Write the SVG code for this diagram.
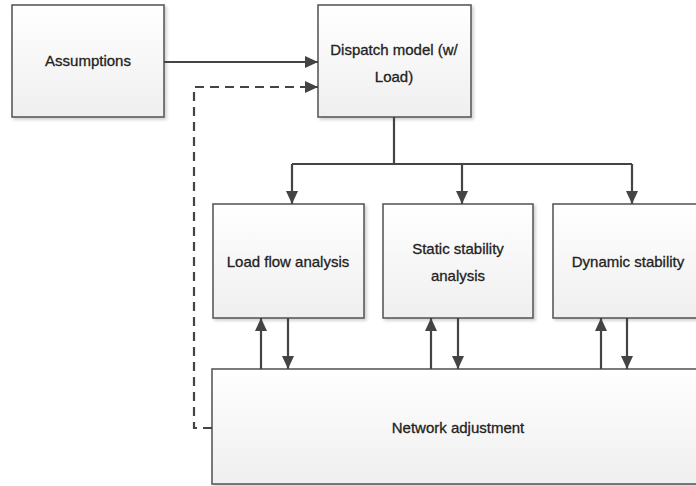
<svg xmlns="http://www.w3.org/2000/svg" width="696" height="486" viewBox="0 0 696 486">
<style>
.box{fill:url(#g);stroke:#5a5a5a;stroke-width:1.6;filter:url(#sh)}
.t{font-family:"Liberation Sans",Arial,sans-serif;font-size:15px;fill:#222;stroke:#222;stroke-width:0.3;text-anchor:middle}
.c{fill:none;stroke:#444;stroke-width:2.2}
.d{stroke-dasharray:9 6}
</style>
<defs>
<linearGradient id="g" x1="0" y1="0" x2="0" y2="1">
<stop offset="0" stop-color="#ffffff"/>
<stop offset="1" stop-color="#efefef"/>
</linearGradient>
<filter id="sh" x="-5%" y="-5%" width="115%" height="115%">
<feDropShadow dx="2" dy="2" stdDeviation="1.5" flood-color="#000" flood-opacity="0.18"/>
</filter>
<marker id="a" markerUnits="userSpaceOnUse" markerWidth="14" markerHeight="14" viewBox="0 0 14 14" refX="13" refY="7" orient="auto">
<path d="M0,1 L13,7 L0,13 Z" fill="#444"/>
</marker>
</defs>
<g id="assumptions">
<rect class="box" x="12" y="5" width="152" height="112"/>
<text class="t" x="88" y="66">Assumptions</text>
</g>
<g id="dispatch">
<rect class="box" x="318" y="5" width="153" height="112"/>
<text class="t" x="394" y="55">Dispatch model (w/</text>
<text class="t" x="394" y="82">Load)</text>
</g>
<g id="loadflow">
<rect class="box" x="213" y="204" width="151" height="114"/>
<text class="t" x="288" y="267">Load flow analysis</text>
</g>
<g id="static">
<rect class="box" x="383" y="204" width="150" height="114"/>
<text class="t" x="458" y="254">Static stability</text>
<text class="t" x="458" y="281">analysis</text>
</g>
<g id="dynamic">
<rect class="box" x="553" y="204" width="160" height="114"/>
<text class="t" x="628" y="267">Dynamic stability</text>
</g>
<g id="network">
<rect class="box" x="212" y="369" width="500" height="115"/>
<text class="t" x="458" y="433">Network adjustment</text>
</g>
<g id="connectors">
<path class="c" d="M164,62 H318" marker-end="url(#a)"/>
<path class="c d" d="M212,428 H194 V87 H318" marker-end="url(#a)"/>
<path class="c" d="M394,117 V164 M292,164 H632"/>
<path class="c" d="M292,164 V204" marker-end="url(#a)"/>
<path class="c" d="M462,164 V204" marker-end="url(#a)"/>
<path class="c" d="M632,164 V204" marker-end="url(#a)"/>
<path class="c" d="M261,369 V318" marker-end="url(#a)"/>
<path class="c" d="M288,318 V369" marker-end="url(#a)"/>
<path class="c" d="M431,369 V318" marker-end="url(#a)"/>
<path class="c" d="M458,318 V369" marker-end="url(#a)"/>
<path class="c" d="M601,369 V318" marker-end="url(#a)"/>
<path class="c" d="M627,318 V369" marker-end="url(#a)"/>
</g>
</svg>
